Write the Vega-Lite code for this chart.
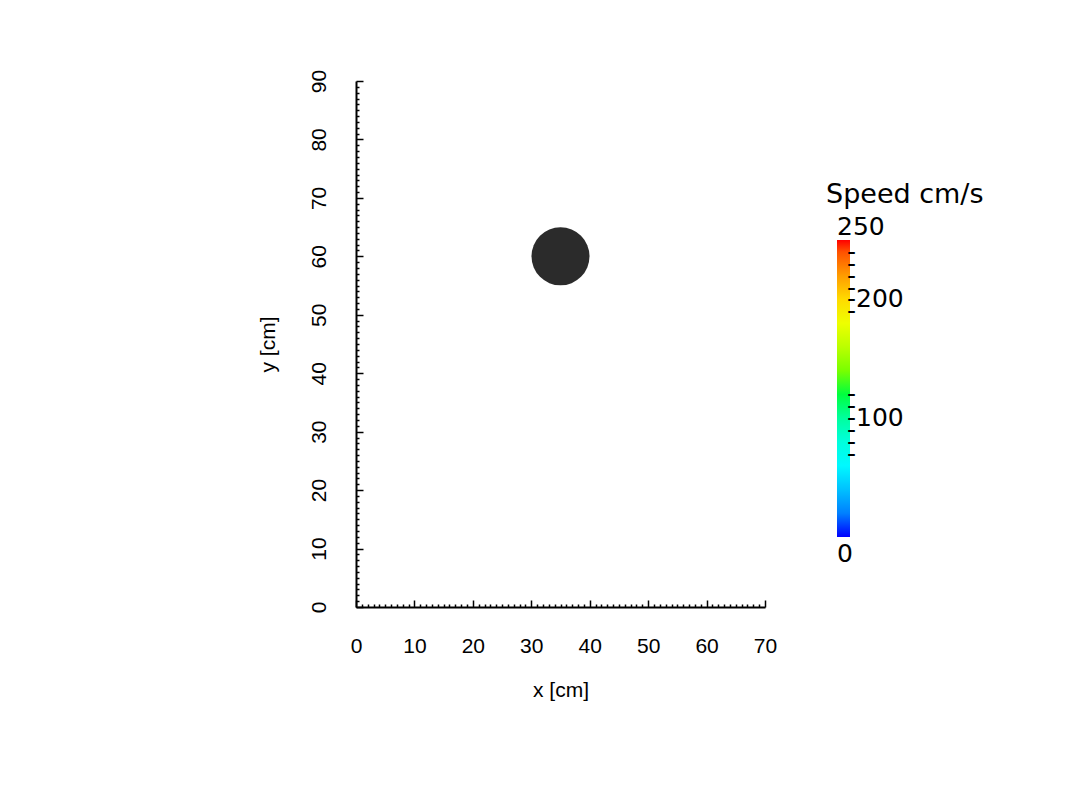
{
  "$schema": "https://vega.github.io/schema/vega-lite/v6.json",
  "width": 409,
  "height": 526,
  "autosize": {"type": "none"},
  "padding": {"left": 356, "top": 81, "right": 308, "bottom": 191},
  "background": "white",
  "config": {"view": {"stroke": null}},
  "data": {"values": [{"x": 35, "y": 60, "speed": 0}]},
  "mark": {"type": "circle", "size": 3364, "fill": "#2b2b2b", "fillOpacity": 1, "strokeOpacity": 0, "strokeWidth": 0},
  "encoding": {
    "x": {
      "field": "x", "type": "quantitative",
      "scale": {"domain": [0, 70], "nice": false, "zero": false},
      "axis": {
        "title": "x [cm]",
        "values": [0,1,2,3,4,5,6,7,8,9,10,11,12,13,14,15,16,17,18,19,20,21,22,23,24,25,26,27,28,29,30,31,32,33,34,35,36,37,38,39,40,41,42,43,44,45,46,47,48,49,50,51,52,53,54,55,56,57,58,59,60,61,62,63,64,65,66,67,68,69,70],
        "labelExpr": "datum.value % 10 === 0 ? datum.label : ''",
        "tickSize": {"condition": {"test": "datum.value % 10 === 0", "value": -7}, "value": -3},
        "grid": false,
        "domainColor": "black", "domainWidth": 2,
        "tickColor": "black", "tickWidth": 1.5,
        "labelFont": "Liberation Sans", "labelFontSize": 21, "labelColor": "black",
        "labelPadding": 35, "labelOverlap": false, "labelFlush": false,
        "titleFont": "Liberation Sans", "titleFontSize": 21, "titleFontWeight": "normal", "titleColor": "black",
        "titlePadding": 19
      }
    },
    "y": {
      "field": "y", "type": "quantitative",
      "scale": {"domain": [0, 90], "nice": false, "zero": false},
      "axis": {
        "title": "y [cm]",
        "values": [0,1,2,3,4,5,6,7,8,9,10,11,12,13,14,15,16,17,18,19,20,21,22,23,24,25,26,27,28,29,30,31,32,33,34,35,36,37,38,39,40,41,42,43,44,45,46,47,48,49,50,51,52,53,54,55,56,57,58,59,60,61,62,63,64,65,66,67,68,69,70,71,72,73,74,75,76,77,78,79,80,81,82,83,84,85,86,87,88,89,90],
        "labelExpr": "datum.value % 10 === 0 ? datum.label : ''",
        "tickSize": {"condition": {"test": "datum.value % 10 === 0", "value": -7}, "value": -3},
        "grid": false,
        "domainColor": "black", "domainWidth": 2,
        "tickColor": "black", "tickWidth": 1.5,
        "labelAngle": -90, "labelAlign": "center", "labelBaseline": "bottom",
        "labelFont": "Liberation Sans", "labelFontSize": 21, "labelColor": "black",
        "labelPadding": 34, "labelOverlap": false, "labelFlush": false,
        "titleFont": "Liberation Sans", "titleFontSize": 21, "titleFontWeight": "normal", "titleColor": "black",
        "titlePadding": 26
      }
    },
    "stroke": {
      "field": "speed", "type": "quantitative",
      "scale": {"domain": [0, 250], "range": ["#0000ff", "#00ffff", "#00ff00", "#ffff00", "#ff0000"], "nice": false, "zero": false},
      "legend": {
        "orient": "none", "legendX": 470, "legendY": 101,
        "title": "Speed cm/s", "direction": "vertical",
        "gradientLength": 297, "gradientThickness": 13, "gradientStrokeWidth": 0,
        "values": [0, 70, 80, 90, 100, 110, 120, 190, 200, 210, 220, 230, 240, 250],
        "labelExpr": "datum.value === 0 || datum.value === 250 ? datum.label : (datum.value === 100 || datum.value === 200 ? '-' + datum.label : '-')",
        "labelOverlap": false,
        "labelFont": "DejaVu Sans", "labelFontSize": 25, "labelColor": "black", "labelOffset": 0,
        "titleFont": "DejaVu Sans", "titleFontSize": 27, "titleFontWeight": "normal", "titleColor": "black",
        "titlePadding": 31, "titleBaseline": "top",
        "encode": {
          "labels": {"update": {
            "dx": {"signal": "datum.value === 0 || datum.value === 250 ? -13 : -3"},
            "dy": {"signal": "datum.value === 250 ? -13 : (datum.value === 0 ? 17 : 0)"},
            "baseline": {"value": "middle"},
            "align": {"value": "left"}
          }},
          "title": {"update": {"dx": {"value": -11}}}
        }
      }
    }
  }
}
